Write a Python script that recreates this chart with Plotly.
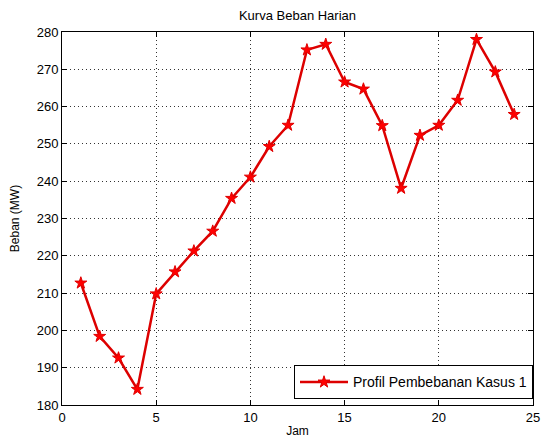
import plotly.graph_objects as go

jam = list(range(1, 25))
beban = [212.7, 198.4, 192.6, 184.2, 209.8, 215.7, 221.3, 226.6, 235.4, 241.1,
         249.3, 255.0, 275.2, 276.7, 266.6, 264.7, 254.9, 238.1, 252.3, 255.0,
         261.7, 278.0, 269.3, 257.9]
series_name = "Profil Pembebanan Kasus 1"
title_text = "Kurva Beban Harian"
x_title = "Jam"
y_title = "Beban (MW)"

font_family = "Liberation Sans, Arial, sans-serif"

# page body has an 8px margin, so the figure is sized to fit the 549x445 window
W, H = 541, 437

fig = go.Figure()
fig.add_trace(go.Scatter(
    x=jam, y=beban, mode="lines+markers", name=series_name,
    line=dict(color="#dd0000", width=2.5),
    marker=dict(symbol="star", size=9, color="#ff0000",
                line=dict(color="#e00000", width=1)),
))

axis_common = dict(
    showline=True, linecolor="black", linewidth=1, mirror="ticks",
    ticks="inside", ticklen=5, tickcolor="black",
    showgrid=True, gridcolor="#333333", griddash="1px,3px", gridwidth=1,
    zeroline=False,
    tickfont=dict(family=font_family, size=13, color="black"),
    title_font=dict(family=font_family, size=12, color="black"),
    ticklabeloverflow="allow",
)

fig.update_layout(
    width=W, height=H,
    margin=dict(l=54, r=9, t=24, b=40),
    paper_bgcolor="white", plot_bgcolor="white",
    title=dict(text=title_text, x=0.5, xref="paper", xanchor="center",
               y=1 - 7 / H, yref="container", yanchor="middle",
               font=dict(family=font_family, size=13, color="black")),
    xaxis=dict(range=[0, 25], dtick=5, tick0=0, title=dict(text=x_title, standoff=3),
               automargin=True, **axis_common),
    yaxis=dict(range=[180, 280], dtick=10, tick0=180, title=dict(text=y_title, standoff=16),
               automargin=False, **axis_common),
    showlegend=True,
    legend=dict(x=1.0, y=0.015, xanchor="right", yanchor="bottom",
                bgcolor="white", bordercolor="black", borderwidth=1,
                font=dict(family=font_family, size=14, color="black"),
                itemwidth=48, tracegroupgap=0),
    font=dict(family=font_family),
)

fig.write_html("out.html")
